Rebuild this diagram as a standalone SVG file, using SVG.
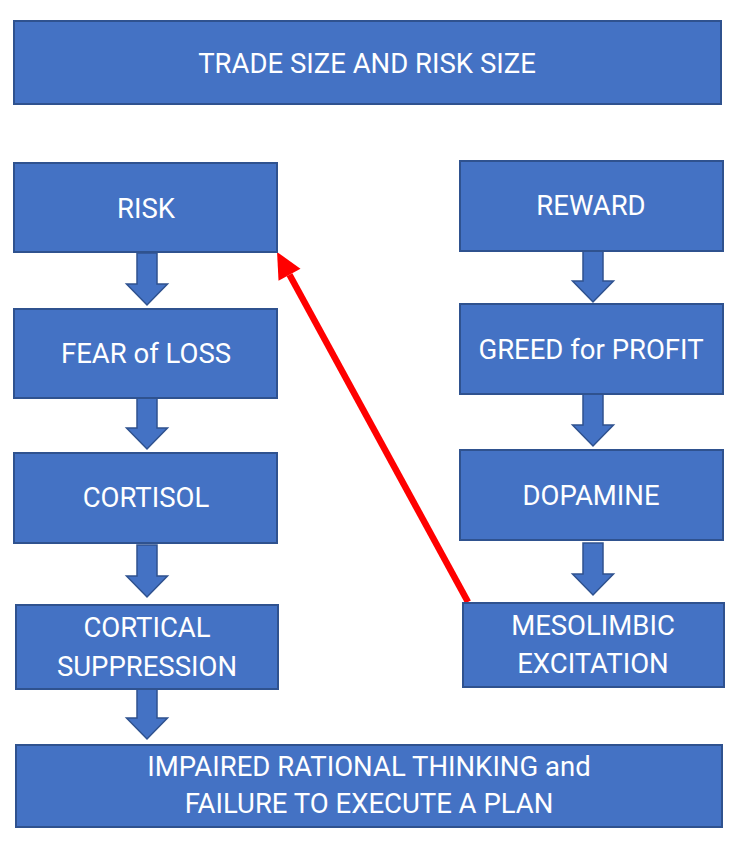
<svg xmlns="http://www.w3.org/2000/svg" xmlns:xlink="http://www.w3.org/1999/xlink" width="740" height="846" viewBox="0 0 740 846">
<style>
.box{fill:#4472C4;stroke:#2F528F;stroke-width:2}
.blk{fill:#4472C4;stroke:#2F528F;stroke-width:1.5}
.t{font-family:Roboto,"Liberation Sans",sans-serif;font-size:27.5px;fill:#FFFFFF;text-anchor:middle}
.red{stroke:#FF0000;stroke-width:6.5;fill:none}
</style>
<defs>
<path id="blk" d="M-10,0 H10 V31 H20.5 L0,52 L-20.5,31 H-10 Z"/>
<marker id="rh" markerUnits="userSpaceOnUse" markerWidth="26" markerHeight="26" refX="0" refY="12.5" orient="auto" overflow="visible">
<path d="M0,0 L26,12.5 L0,25 Z" fill="#FF0000"/>
</marker>
</defs>
<rect width="740" height="846" fill="#FFFFFF"/>
<g id="connectors">
<use xlink:href="#blk" href="#blk" class="blk" x="147" y="253"/>
<use xlink:href="#blk" href="#blk" class="blk" x="147" y="397"/>
<use xlink:href="#blk" href="#blk" class="blk" x="147" y="545"/>
<use xlink:href="#blk" href="#blk" class="blk" x="147" y="687"/>
<use xlink:href="#blk" href="#blk" class="blk" x="593" y="250"/>
<use xlink:href="#blk" href="#blk" class="blk" x="593" y="394"/>
<use xlink:href="#blk" href="#blk" class="blk" x="593" y="543"/>
<line class="red" x1="468" y1="602" x2="289.5" y2="274.8" marker-end="url(#rh)"/>
</g>
<g id="trade">
<rect class="box" x="14" y="21" width="707" height="83"/>
<text class="t" x="367" y="73">TRADE SIZE AND RISK SIZE</text>
</g>
<g id="risk">
<rect class="box" x="14" y="163" width="263" height="89"/>
<text class="t" x="146" y="218">RISK</text>
</g>
<g id="fear">
<rect class="box" x="14" y="309" width="263" height="89"/>
<text class="t" x="146" y="363">FEAR of LOSS</text>
</g>
<g id="cortisol">
<rect class="box" x="14" y="453" width="263" height="90"/>
<text class="t" x="146" y="507">CORTISOL</text>
</g>
<g id="cortical">
<rect class="box" x="16" y="605" width="262" height="84"/>
<text class="t" x="147" y="637">CORTICAL</text>
<text class="t" x="147" y="676">SUPPRESSION</text>
</g>
<g id="reward">
<rect class="box" x="460" y="161" width="263" height="90"/>
<text class="t" x="591" y="215">REWARD</text>
</g>
<g id="greed">
<rect class="box" x="460" y="304" width="263" height="90"/>
<text class="t" x="591" y="359">GREED for PROFIT</text>
</g>
<g id="dopamine">
<rect class="box" x="460" y="450" width="263" height="90"/>
<text class="t" x="591" y="505">DOPAMINE</text>
</g>
<g id="mesolimbic">
<rect class="box" x="463" y="603" width="261" height="84"/>
<text class="t" x="593" y="635">MESOLIMBIC</text>
<text class="t" x="593" y="673">EXCITATION</text>
</g>
<g id="impaired">
<rect class="box" x="16" y="745" width="706" height="82"/>
<text class="t" x="369" y="776">IMPAIRED RATIONAL THINKING and</text>
<text class="t" x="369" y="813">FAILURE TO EXECUTE A PLAN</text>
</g>
</svg>
